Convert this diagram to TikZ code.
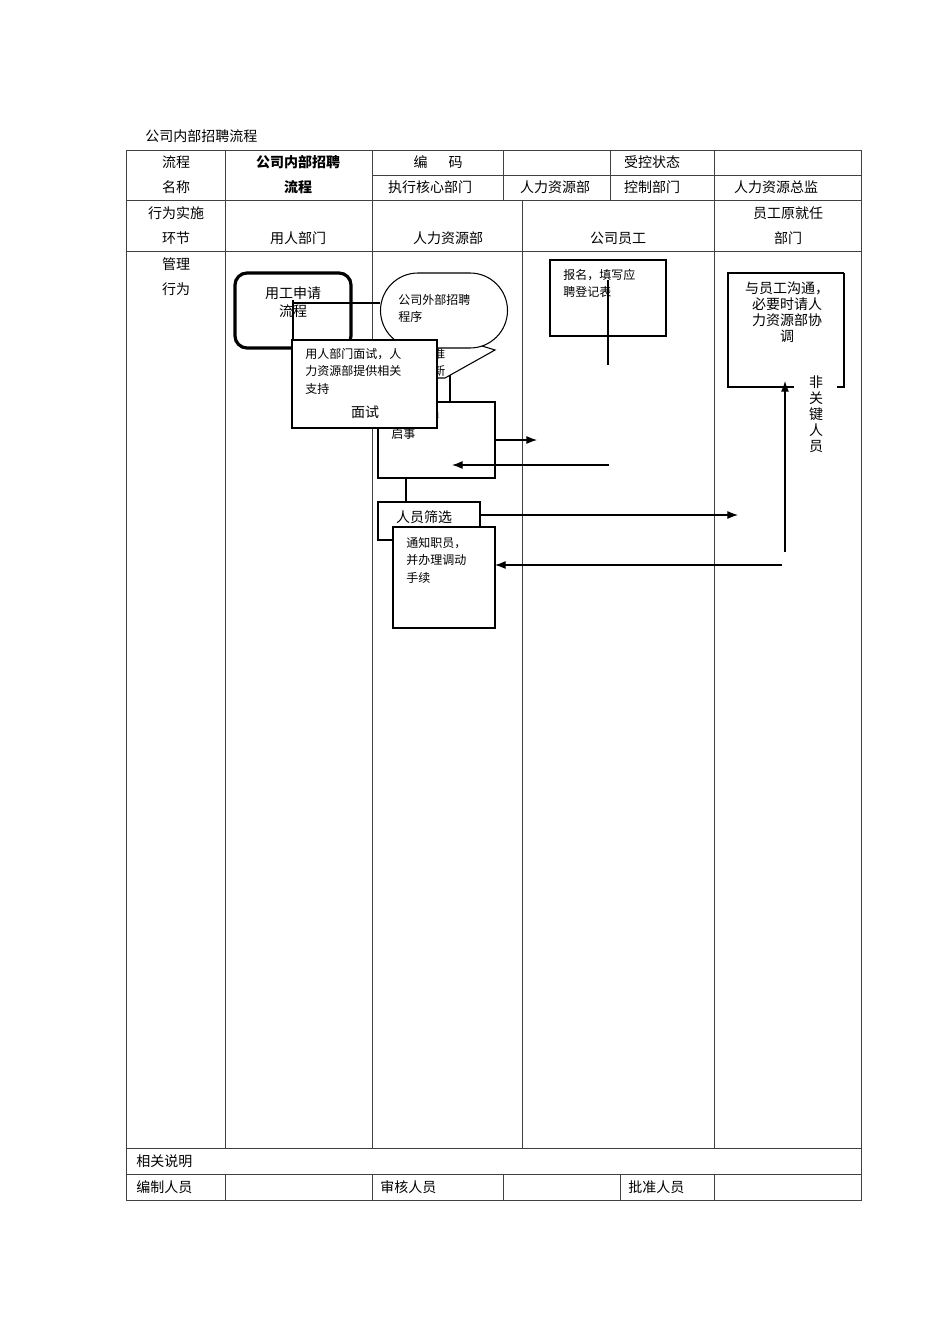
\documentclass[tikz,border=0pt]{standalone}
\usepackage{fontspec}
\usetikzlibrary{arrows.meta}
\setmainfont{Noto Sans CJK SC}
\begin{document}
\begin{tikzpicture}[x=0.75pt,y=-0.75pt,
  grid/.style={line width=0.6pt,draw=black!75},
  bx/.style={draw,line width=0.8pt,fill=white},
  t/.style={font=\fontsize{10.5}{13}\selectfont,inner sep=0pt},
  s/.style={font=\fontsize{9}{13}\selectfont,inner sep=0pt,align=left,anchor=north west},
  ar/.style={line width=0.8pt,-{Latex[length=8pt,width=6pt]}}]
\useasboundingbox (0,0) rectangle (950,1344);
\fill[white] (0,0) rectangle (950,1344);
% table
\draw[grid] (126,150) rectangle (861,1200);
\draw[grid] (126,200)--(861,200) (126,251)--(861,251) (126,1148)--(861,1148) (126,1174)--(861,1174);
\draw[grid] (372,175)--(861,175);
\draw[grid] (225,150)--(225,1148) (372,150)--(372,1148) (503,150)--(503,200) (610,150)--(610,200) (714,150)--(714,1148) (522,200)--(522,1148);
\draw[grid] (225,1174)--(225,1200) (372,1174)--(372,1200) (503,1174)--(503,1200) (620,1174)--(620,1200) (714,1174)--(714,1200);
\node[t,anchor=west] (title) at (145,136) {公司内部招聘流程};
\node[t] (a1) at (176,162) {流程};
\node[t] (a2) at (176,187) {名称};
\node[t,font=\fontsize{10.5}{13}\bfseries] (a3) at (298,162) {公司内部招聘};
\node[t,font=\fontsize{10.5}{13}\bfseries] (a4) at (298,187) {流程};
\node[t] (a5) at (438,162) {编\hspace{1.5em}码};
\node[t] (a6) at (652,162) {受控状态};
\node[t] (a7) at (430,187) {执行核心部门};
\node[t] (a8) at (555,187) {人力资源部};
\node[t] (a9) at (652,187) {控制部门};
\node[t] (a10) at (776,187) {人力资源总监};
\node[t] (b1) at (176,213) {行为实施};
\node[t] (b2) at (176,238) {环节};
\node[t] (b3) at (298,238) {用人部门};
\node[t] (b4) at (448,238) {人力资源部};
\node[t] (b5) at (618,238) {公司员工};
\node[t] (b6) at (788,213) {员工原就任};
\node[t] (b7) at (788,238) {部门};
\node[t] (c1) at (176,264) {管理};
\node[t] (c2) at (176,289) {行为};
\node[t,anchor=west] (d1) at (136,1161) {相关说明};
\node[t,anchor=west] (d2) at (136,1187) {编制人员};
\node[t,anchor=west] (d3) at (380,1187) {审核人员};
\node[t,anchor=west] (d4) at (628,1187) {批准人员};
% flow
\draw[line width=2.4pt,rounded corners=9pt] (235,273) rectangle (351,348);
\node[t,align=center] (yg) at (293,302) {用工申请\\流程};
\draw[line width=0.8pt] (293,303)--(380,303);
\draw[line width=0.8pt] (293,300)--(293,345);
\draw[line width=0.8pt] (450,345)--(450,405);
\draw[bx] (430,330)--(495,350)--(445,378)--(430,378)--cycle;
\node[s] (zx) at (433,348) {准\\新};
\draw[bx] (418,273) -- (470,273) arc[start angle=-90,end angle=90,radius=37.5] -- (418,348) arc[start angle=90,end angle=270,radius=37.5] -- cycle;
\node[s] (wb) at (398,294) {公司外部招聘\\程序};
\draw[bx] (378,402) rectangle (495,478);
\node[s] (fb) at (391,411) {发布招聘\\启事};
\draw[bx] (292,340) rectangle (437,428);
\node[s] (ms) at (305,348) {用人部门面试，人\\力资源部提供相关\\支持};
\node[t] (ms2) at (365,412) {面试};
\draw[line width=0.8pt] (406,478)--(406,502);
\draw[bx] (378,502) rectangle (480,540);
\node[t] (sx) at (424,517) {人员筛选};
\draw[bx] (393,527) rectangle (495,628);
\node[s] (tz) at (406,537) {通知职员，\\并办理调动\\手续};
\draw[bx] (550,260) rectangle (666,336);
\node[s] (bm) at (563,269) {报名，填写应\\聘登记表};
\draw[line width=0.8pt] (608,280)--(608,365);
\draw[line width=0.8pt] (844,273)--(728,273)--(728,387)--(794,387);
\draw[line width=0.8pt] (844,273)--(844,387)--(837,387);
\node[t,align=center,font=\fontsize{10.5}{12}\selectfont] (gt) at (787,312) {与员工沟通，\\必要时请人\\力资源部协\\调};
\node[t,align=center,font=\fontsize{10.5}{12}\selectfont] (fg) at (816,414) {非\\关\\键\\人\\员};
\coordinate (p1) at (495,440); \coordinate (p2) at (537,440);
\draw[ar] (p1)--(p2);
\coordinate (p3) at (609,465); \coordinate (p4) at (452,465);
\draw[ar] (p3)--(p4);
\coordinate (p5) at (480,515); \coordinate (p6) at (738,515);
\draw[ar] (p5)--(p6);
\coordinate (p7) at (782,565); \coordinate (p8) at (495,565);
\draw[ar] (p7)--(p8);
\coordinate (p9) at (785,552); \coordinate (p10) at (785,381);
\draw[ar] (p9)--(p10);
\end{tikzpicture}
\end{document}
